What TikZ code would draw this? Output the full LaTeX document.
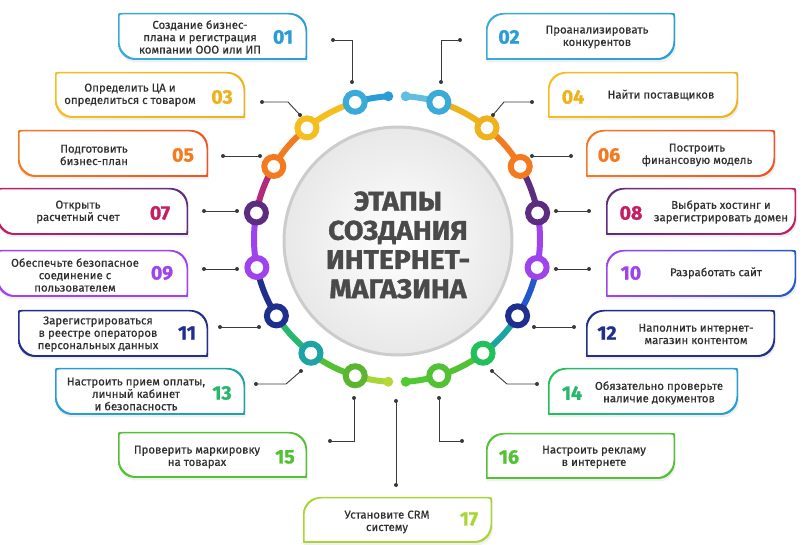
\documentclass[tikz,border=0pt]{standalone}
\usepackage{fontspec}
\setmainfont{Fira Sans}
\newfontfamily\medf{Fira Sans}[FakeBold=0.35]
\newfontfamily\heavy{Fira Sans}[BoldFeatures={FakeBold=1.2}]
\usetikzlibrary{calc}
\definecolor{txt}{HTML}{2E2E2E}
\definecolor{ttl}{HTML}{4A4A4A}
\definecolor{cn}{HTML}{3A3A3A}
\definecolor{cBlue}{HTML}{3AABD8}
\definecolor{cBlueD}{HTML}{2A9DD6}
\definecolor{cBlueL}{HTML}{63BDE3}
\definecolor{cYel}{HTML}{F5BE1E}
\definecolor{cYelD}{HTML}{EDB21C}
\definecolor{cOra}{HTML}{F47A20}
\definecolor{cRed}{HTML}{EE5424}
\definecolor{cMag}{HTML}{B22A7E}
\definecolor{cMagN}{HTML}{C41F62}
\definecolor{cPur}{HTML}{5B2C80}
\definecolor{cVio}{HTML}{A043EC}
\definecolor{cNavy}{HTML}{1F2F8E}
\definecolor{cBlue2}{HTML}{2258CC}
\definecolor{cTeal}{HTML}{1DA3A3}
\definecolor{cGrT}{HTML}{27B86E}
\definecolor{cGr}{HTML}{22C05A}
\definecolor{cGr2}{HTML}{52C234}
\definecolor{cGr3}{HTML}{5CB531}
\definecolor{cLime}{HTML}{A9D637}
\definecolor{cLime2}{HTML}{B5D935}
\definecolor{cGr4}{HTML}{4FCB31}
% box paths
\newcommand\lpath[4]{({#1+3},#2) -- ({#3-17},#2) .. controls ({#3-7.6},#2) and (#3,{#2+7.6}) .. (#3,{#2+17}) -- (#3,{#4-2}) .. controls (#3,#4) .. ({#3-2},#4) -- ({#1+17},#4) .. controls ({#1+7.6},#4) and (#1,{#4-7.6}) .. (#1,{#4-17}) -- (#1,{#2+3}) .. controls (#1,#2) .. ({#1+3},#2) -- cycle}
\newcommand\rpath[4]{({#1+17},#2) -- ({#3-3},#2) .. controls (#3,#2) .. (#3,{#2+3}) -- (#3,{#4-17}) .. controls (#3,{#4-7.6}) and ({#3-7.6},#4) .. ({#3-17},#4) -- ({#1+2},#4) .. controls (#1,#4) .. (#1,{#4-2}) -- (#1,{#2+17}) .. controls (#1,{#2+7.6}) and ({#1+7.6},#2) .. ({#1+17},#2) -- cycle}
\newcommand\lbox[6]{\fill[black,opacity=0.06] \lpath{#1+1}{#2+1.5}{#3+1}{#4+2.5};
 \fill[white] \lpath{#1}{#2}{#3}{#4};
 \shade[even odd rule,left color=#5,right color=#6] \lpath{#1}{#2}{#3}{#4} \lpath{#1+1.5}{#2+1.5}{#3-1.5}{#4-1.8};}
\newcommand\rbox[6]{\fill[black,opacity=0.06] \rpath{#1+1}{#2+1.5}{#3+1}{#4+2.5};
 \fill[white] \rpath{#1}{#2}{#3}{#4};
 \shade[even odd rule,left color=#5,right color=#6] \rpath{#1}{#2}{#3}{#4} \rpath{#1+1.5}{#2+1.5}{#3-1.5}{#4-1.8};}
\tikzset{
  lbl/.style={text=txt,align=center,font=\medf\fontsize{11.4}{12.4}\selectfont,inner sep=0pt},
  num/.style={font=\heavy\bfseries\fontsize{19.5}{19.5}\selectfont,inner sep=0pt},
  conn/.style={draw=cn,line width=0.9pt},
  cdot/.style={circle,fill=cn,inner sep=0pt,minimum size=4pt},
  ringn/.style={circle,draw=#1,line width=6pt,fill=white,minimum size=19pt,inner sep=0pt},
  seg/.style={line width=6pt,draw=#1},
  enddot/.style={circle,fill=#1,inner sep=0pt,minimum size=10pt}
}
\begin{document}
\begin{tikzpicture}[x=1pt,y=-1pt]
\useasboundingbox[fill=white] (0,0) rectangle (807,545);
% central disk
\shade[inner color=white,outer color=black!9] (398,241) circle[radius=114];
\draw[draw=black!20,line width=3pt] (398,241) circle[radius=114];
\node[text=ttl,align=center,font=\heavy\bfseries\fontsize{27}{29.2}\selectfont,xscale=1.05,transform shape] (title) at (398,245) {ЭТАПЫ\\СОЗДАНИЯ\\ИНТЕРНЕТ-\\МАГАЗИНА};
% ring
\begin{scope}[shift={(397,239)},y=1pt]
\draw[seg=cBlueD] (93.5:143) arc[start angle=93.5,end angle=107,radius=143];
\draw[seg=cYel] (107:143) arc[start angle=107,end angle=129,radius=143];
\draw[seg=cOra] (129:143) arc[start angle=129,end angle=149.5,radius=143];
\draw[seg=cMag] (149.5:143) arc[start angle=149.5,end angle=169.5,radius=143];
\draw[seg=cVio] (169.5:143) arc[start angle=169.5,end angle=191.5,radius=143];
\draw[seg=cNavy] (191.5:143) arc[start angle=191.5,end angle=212.5,radius=143];
\draw[seg=cGrT] (212.5:143) arc[start angle=212.5,end angle=233,radius=143];
\draw[seg=cGr2] (233:143) arc[start angle=233,end angle=253,radius=143];
\draw[seg=cLime] (253:143) arc[start angle=253,end angle=266.5,radius=143];
\draw[seg=cBlueL] (86.5:143) arc[start angle=86.5,end angle=73,radius=143];
\draw[seg=cYelD] (73:143) arc[start angle=73,end angle=51,radius=143];
\draw[seg=cOra] (51:143) arc[start angle=51,end angle=30.5,radius=143];
\draw[seg=cPur] (30.5:143) arc[start angle=30.5,end angle=10.5,radius=143];
\draw[seg=cVio] (10.5:143) arc[start angle=10.5,end angle=-11.5,radius=143];
\draw[seg=cBlue2] (-11.5:143) arc[start angle=-11.5,end angle=-32.5,radius=143];
\draw[seg=cTeal] (-32.5:143) arc[start angle=-32.5,end angle=-53,radius=143];
\draw[seg=cGr2] (-53:143) arc[start angle=-53,end angle=-73,radius=143];
\draw[seg=cGr4] (-73:143) arc[start angle=-73,end angle=-86.5,radius=143];
\node[enddot=cBlueD] (dtl) at (93.5:143) {};
\node[enddot=cBlueL] (dtr) at (86.5:143) {};
\node[enddot=cLime2] (dbl) at (266.5:143) {};
\node[enddot=cGr4] (dbr) at (273.5:143) {};
\node[ringn=cBlue] (r01) at (107:143) {};
\node[ringn=cYel] (r03) at (129:143) {};
\node[ringn=cOra] (r05) at (149.5:143) {};
\node[ringn=cPur] (r07) at (169.5:143) {};
\node[ringn=cVio] (r09) at (191.5:143) {};
\node[ringn=cNavy] (r11) at (212.5:143) {};
\node[ringn=cTeal] (r13) at (233:143) {};
\node[ringn=cGr3] (r15) at (253:143) {};
\node[ringn=cBlue] (r02) at (73:143) {};
\node[ringn=cYelD] (r04) at (51:143) {};
\node[ringn=cOra] (r06) at (30.5:143) {};
\node[ringn=cPur] (r08) at (10.5:143) {};
\node[ringn=cVio] (r10) at (-11.5:143) {};
\node[ringn=cNavy] (r12) at (-32.5:143) {};
\node[ringn=cGr] (r14) at (-53:143) {};
\node[ringn=cGr2] (r16) at (-73:143) {};
\end{scope}
% connectors
\coordinate (a01) at (333,40); \coordinate (b01) at (352,82);
\coordinate (a02) at (460,40); \coordinate (b02) at (441,82);
\coordinate (a03) at (262,102); \coordinate (k03) at (288,102); \coordinate (b03) at (300,115);
\coordinate (a04) at (532,102); \coordinate (k04) at (504,102); \coordinate (b04) at (493,115);
\coordinate (a05) at (223,156); \coordinate (b05) at (260,156);
\coordinate (a06) at (571,156); \coordinate (b06) at (532,156);
\coordinate (a07) at (204,211); \coordinate (b07) at (237,211);
\coordinate (a08) at (589,211); \coordinate (b08) at (556,211);
\coordinate (a09) at (204,269); \coordinate (b09) at (237,269);
\coordinate (a10) at (589,269); \coordinate (b10) at (556,269);
\coordinate (a11) at (220,327); \coordinate (b11) at (259,327);
\coordinate (a12) at (574,327); \coordinate (b12) at (534,327);
\coordinate (a13) at (256,384); \coordinate (k13) at (286,384); \coordinate (b13) at (301,371);
\coordinate (a14) at (537,384); \coordinate (k14) at (507,384); \coordinate (b14) at (492,371);
\coordinate (a15) at (330,441); \coordinate (b15) at (354,398);
\coordinate (a16) at (462,441); \coordinate (b16) at (439,398);
\coordinate (a17) at (396,485); \coordinate (b17) at (396,401);
\draw[conn] (a01) -| (b01);
\draw[conn] (a02) -| (b02);
\draw[conn] (a03) -- (k03) -- (b03);
\draw[conn] (a04) -- (k04) -- (b04);
\draw[conn] (a05) -- (b05);
\draw[conn] (a06) -- (b06);
\draw[conn] (a07) -- (b07);
\draw[conn] (a08) -- (b08);
\draw[conn] (a09) -- (b09);
\draw[conn] (a10) -- (b10);
\draw[conn] (a11) -- (b11);
\draw[conn] (a12) -- (b12);
\draw[conn] (a13) -- (k13) -- (b13);
\draw[conn] (a14) -- (k14) -- (b14);
\draw[conn] (a15) -| (b15);
\draw[conn] (a16) -| (b16);
\draw[conn] (a17) -- (b17);
\foreach \i in {01,02,03,04,05,06,07,08,09,10,11,12,13,14,15,16,17}{
  \node[cdot] at (a\i) {}; \node[cdot] at (b\i) {};
}
% boxes
\lbox{118}{13}{307}{60}{cBlue}{cBlueD}
\lbox{55}{72}{245}{118}{cYel}{cYelD}
\lbox{18}{130}{208}{177}{cOra}{cRed}
\lbox{-3}{188}{188}{235}{cMagN}{cPur}
\lbox{-3}{250}{188}{297}{cVio}{cVio}
\lbox{18}{310}{208}{357}{cNavy}{cNavy}
\lbox{55}{368}{245}{415}{cBlueD}{cTeal}
\lbox{118}{432}{307}{478}{cGr2}{cGr2}
\rbox{303}{497}{492}{543}{cLime}{cLime}
\rbox{486}{13}{675}{60}{cBlue}{cBlueD}
\rbox{548}{72}{738}{118}{cYel}{cYelD}
\rbox{586}{130}{775}{177}{cOra}{cRed}
\rbox{606}{188}{796}{235}{cPur}{cMagN}
\rbox{606}{250}{796}{297}{cVio}{cBlue2}
\rbox{586}{310}{775}{357}{cNavy}{cNavy}
\rbox{548}{368}{738}{415}{cGr}{cBlueD}
\rbox{486}{433}{675}{479}{cGr2}{cGr2}
% texts
\node[lbl] (t01) at (200,37) {Создание бизнес-\\плана и регистрация\\компании ООО или ИП};
\node[lbl] (t02) at (597,37) {Проанализировать\\конкурентов};
\node[lbl] (t03) at (130,95) {Определить ЦА и\\определиться с товаром};
\node[lbl] (t04) at (661,95) {Найти поставщиков};
\node[lbl] (t05) at (94,155) {Подготовить\\бизнес-план};
\node[lbl] (t06) at (697,155) {Построить\\финансовую модель};
\node[lbl] (t07) at (78,212) {Открыть\\расчетный счет};
\node[lbl] (t08) at (721,212) {Выбрать хостинг и\\зарегистрировать домен};
\node[lbl] (t09) at (75,275) {Обеспечьте безопасное\\соединение с\\пользователем};
\node[lbl] (t10) at (716,273) {Разработать сайт};
\node[lbl] (t11) at (98,334) {Зарегистрироваться\\в реестре операторов\\персональных данных};
\node[lbl] (t12) at (696,334) {Наполнить интернет-\\магазин контентом};
\node[lbl] (t13) at (136,394) {Настроить прием оплаты,\\личный кабинет\\и безопасность};
\node[lbl] (t14) at (659,393) {Обязательно проверьте\\наличие документов};
\node[lbl] (t15) at (197,457) {Проверить маркировку\\на товарах};
\node[lbl] (t16) at (594,457) {Настроить рекламу\\в интернете};
\node[lbl] (t17) at (387,522) {Установите CRM\\систему};
% numbers
\node[num,text=cBlueD] (n01) at (283,37) {01};
\node[num,text=cBlueD] (n02) at (509,37) {02};
\node[num,text=cYelD] (n03) at (222,97) {03};
\node[num,text=cYelD] (n04) at (573,97) {04};
\node[num,text=cOra] (n05) at (183,155) {05};
\node[num,text=cOra] (n06) at (609,155) {06};
\node[num,text=cMagN] (n07) at (160,213) {07};
\node[num,text=cMagN] (n08) at (631,213) {08};
\node[num,text=cVio] (n09) at (162,273) {09};
\node[num,text=cVio] (n10) at (631,273) {10};
\node[num,text=cNavy] (n11) at (187,333) {11};
\node[num,text=cNavy] (n12) at (607,333) {12};
\node[num,text=cGrT] (n13) at (222,393) {13};
\node[num,text=cGrT] (n14) at (572,393) {14};
\node[num,text=cGr2] (n15) at (285,457) {15};
\node[num,text=cGr2] (n16) at (509,457) {16};
\node[num,text=cLime] (n17) at (469,519) {17};
\end{tikzpicture}
\end{document}
